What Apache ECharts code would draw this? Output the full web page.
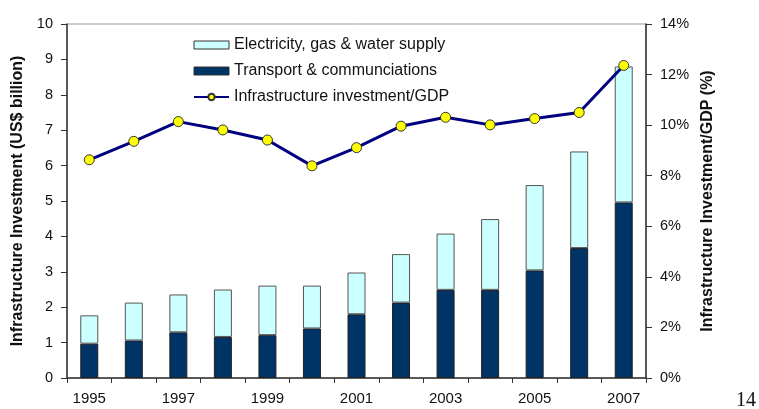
<!DOCTYPE html>
<html>
<head>
<meta charset="utf-8">
<script src="https://cdn.jsdelivr.net/npm/echarts@6/dist/echarts.min.js"></script>
<style>
html,body{margin:0;padding:0;background:#fff;}
#c{width:759px;height:409px;}
</style>
</head>
<body>
<div id="c"></div>
<script>
var years = ['1995','1996','1997','1998','1999','2000','2001','2002','2003','2004','2005','2006','2007'];
var transport = [0.97, 1.06, 1.29, 1.16, 1.21, 1.40, 1.80, 2.13, 2.49, 2.49, 3.04, 3.67, 4.96];
var electricity = [0.80, 1.07, 1.07, 1.34, 1.40, 1.21, 1.18, 1.37, 1.59, 2.00, 2.41, 2.73, 3.84];
var investGdp = [8.63, 9.36, 10.14, 9.81, 9.41, 8.39, 9.11, 9.96, 10.31, 10.01, 10.26, 10.50, 12.36];
var leftTicks = [0,1,2,3,4,5,6,7,8,9,10];
var rightTicks = [0,2,4,6,8,10,12,14];

var chart = echarts.init(document.getElementById('c'));
var font = 'Liberation Sans, Arial, sans-serif';
chart.setOption({
  animation: false,
  textStyle: {fontFamily: font},
  grid: {left: 67, right: 113, top: 24, bottom: 31, show: true, borderColor: '#999', borderWidth: 1},
  legend: {
    orient: 'vertical', left: 188, top: 32, itemWidth: 35, itemHeight: 8, itemGap: 10,
    textStyle: {fontFamily: font, fontSize: 16, color: '#111', padding: [0,0,0,0]},
    data: [
      {name: 'Electricity, gas & water supply', icon: 'rect', itemStyle: {borderColor: '#333', borderWidth: 1}},
      {name: 'Transport & communciations', icon: 'rect', itemStyle: {borderColor: '#333', borderWidth: 1}},
      {name: 'Infrastructure investment/GDP'}
    ]
  },
  xAxis: {
    type: 'category', data: years, boundaryGap: true,
    axisLine: {lineStyle: {color: '#333', width: 1.5}},
    axisTick: {show: true, interval: 0, length: 5, lineStyle: {color: '#333'}},
    axisLabel: {interval: 1, fontSize: 15, color: '#111', margin: 13, fontFamily: font}
  },
  yAxis: [
    {
      type: 'value', min: leftTicks[0], max: leftTicks[leftTicks.length-1], interval: 1,
      name: 'Infrastructure Investment (US$ billion)', nameLocation: 'middle', nameGap: 37,
      nameTextStyle: {fontSize: 16, fontWeight: 'bold', color: '#111', fontFamily: font},
      axisLine: {show: true, lineStyle: {color: '#333', width: 1.5}},
      axisTick: {show: true, length: 6, lineStyle: {color: '#333'}},
      axisLabel: {fontSize: 14.5, color: '#111', margin: 14, fontFamily: font},
      splitLine: {show: false}
    },
    {
      type: 'value', min: rightTicks[0], max: rightTicks[rightTicks.length-1], interval: 2, position: 'right',
      name: 'Infrastructure Investment/GDP (%)', nameLocation: 'middle', nameGap: 52, nameRotate: 90,
      nameTextStyle: {fontSize: 16, fontWeight: 'bold', color: '#111', fontFamily: font},
      axisLine: {show: true, lineStyle: {color: '#333', width: 1.5}},
      axisTick: {show: true, length: 6, lineStyle: {color: '#333'}},
      axisLabel: {fontSize: 14.5, color: '#111', margin: 14, formatter: '{value}%', fontFamily: font},
      splitLine: {show: false}
    }
  ],
  series: [
    {
      name: 'Transport & communciations', type: 'bar', stack: 'inv', data: transport, barWidth: 18,
      itemStyle: {color: '#003366', borderColor: '#222', borderWidth: 1}
    },
    {
      name: 'Electricity, gas & water supply', type: 'bar', stack: 'inv', data: electricity, barWidth: 18,
      itemStyle: {color: '#ccffff', borderColor: '#555', borderWidth: 1}
    },
    {
      name: 'Infrastructure investment/GDP', type: 'line', yAxisIndex: 1, data: investGdp,
      symbol: 'circle', symbolSize: 10,
      lineStyle: {color: '#000080', width: 3},
      itemStyle: {color: '#ffff00', borderColor: '#333', borderWidth: 1}
    }
  ],
  graphic: [
    {type: 'text', left: 736, top: 391, style: {text: '14', fontFamily: 'Liberation Serif, Times New Roman, serif', fontSize: 20, fill: '#111'}}
  ]
});
</script>
</body>
</html>
